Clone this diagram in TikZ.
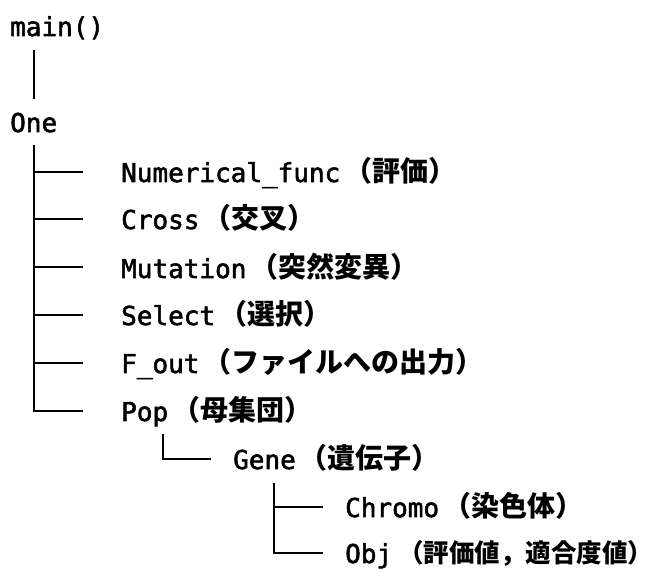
\documentclass[tikz,border=0pt]{standalone}
\usepackage{fontspec}
\newfontfamily\latinfont{DejaVu Sans Mono}[FakeBold=2]
\newfontfamily\jpfont{Noto Sans CJK JP}
\newcommand\JP[1]{\hspace{4pt}{\jpfont\bfseries\fontsize{28}{30}\selectfont #1}}
\newcommand\JPs[1]{\hspace{6pt}{\jpfont\bfseries\fontsize{25.5}{30}\selectfont #1}}
\begin{document}
\begin{tikzpicture}[x=1pt,y=1pt,
  lbl/.style={anchor=base west,inner sep=0pt,font=\latinfont\fontsize{26}{30}\selectfont},
  branch/.style={line width=1.8pt}]
\useasboundingbox (0,0) rectangle (657,-569);
% texts
\node[lbl] (main) at (10,-36) {main()};
\node[lbl] (one) at (10,-132) {One};
\node[lbl] (num) at (121,-182) {Numerical\_func\JP{（評価）}};
\node[lbl] (cross) at (121,-229) {Cross\JP{（交叉）}};
\node[lbl] (mut) at (121,-278) {Mutation\JP{（突然変異）}};
\node[lbl] (sel) at (121,-325) {Select\JP{（選択）}};
\node[lbl] (fout) at (121,-373) {F\_out\JP{（ファイルへの出力）}};
\node[lbl] (pop) at (121,-421) {Pop\JP{（母集団）}};
\node[lbl] (gene) at (233,-469) {Gene\JP{（遺伝子）}};
\node[lbl] (chromo) at (345,-517) {Chromo\JP{（染色体）}};
\node[lbl] (obj) at (345,-563) {Obj\JPs{（評価値，適合度値）}};
% connector points
\coordinate (m0) at (34,-50);
\coordinate (m1) at (34,-99);
\coordinate (o0) at (34,-145);
\coordinate (enum) at (83,-172);
\coordinate (ecross) at (83,-219);
\coordinate (emut) at (83,-267);
\coordinate (esel) at (83,-315);
\coordinate (efout) at (83,-363);
\coordinate (epop) at (83,-411);
\coordinate (p0) at (163,-434);
\coordinate (egene) at (211,-459);
\coordinate (g0) at (274,-483);
\coordinate (echromo) at (323,-507);
\coordinate (eobj) at (323,-553);
% connectors
\draw[branch] (m0) -- (m1);
\draw[branch] (o0) |- (epop);
\foreach \e in {enum,ecross,emut,esel,efout}
  \draw[branch] (o0 |- \e) -- (\e);
\draw[branch] (p0) |- (egene);
\draw[branch] (g0) |- (eobj);
\draw[branch] (g0 |- echromo) -- (echromo);
\end{tikzpicture}
\end{document}
